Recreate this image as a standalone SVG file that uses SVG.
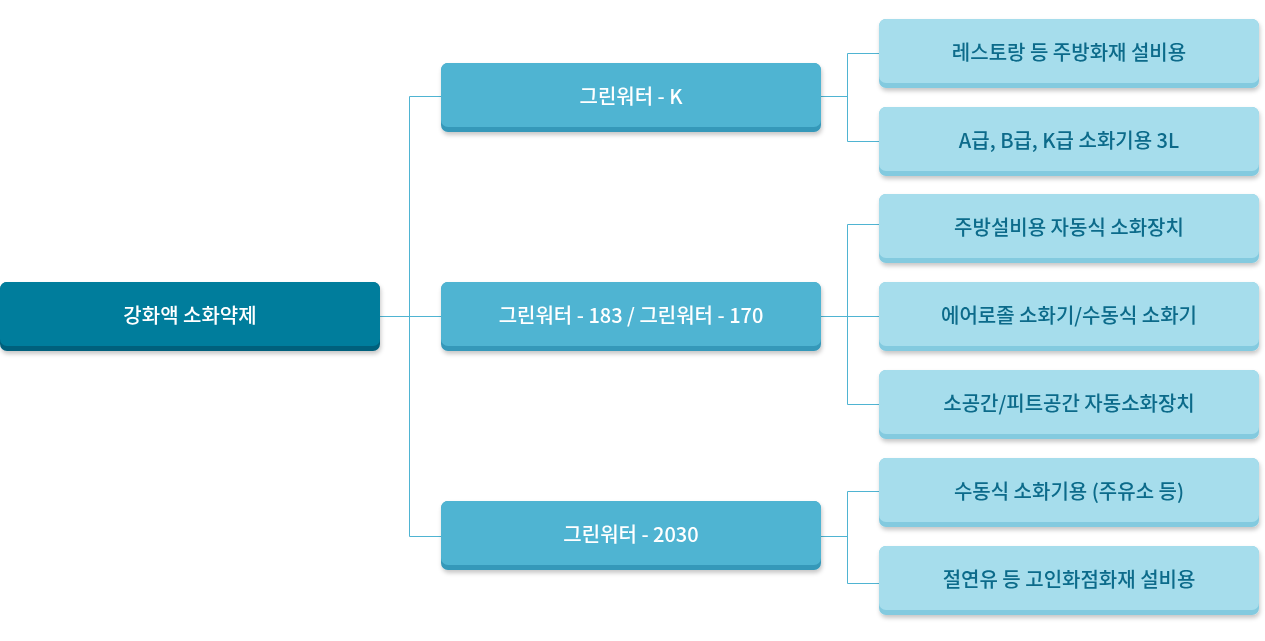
<svg xmlns="http://www.w3.org/2000/svg" width="1265" height="641" viewBox="0 0 1265 641">
<style>
.t{font-family:"Noto Sans CJK KR","Noto Sans",sans-serif;font-size:20px;font-weight:500;text-anchor:middle;dominant-baseline:central}
.w{fill:#ffffff}
.d{fill:#0a6b8a}
.rootA{fill:#03607c}.rootB{fill:#017d9c}
.midA{fill:#3598b9}.midB{fill:#4fb4d2}
.leafA{fill:#83cadf}.leafB{fill:#a6ddec}
.c{fill:none;stroke:#4fb4d2;stroke-width:1}
</style>
<defs>
<filter id="sh" x="-5%" y="-20%" width="115%" height="150%">
<feDropShadow dx="1" dy="3" stdDeviation="2" flood-color="#000" flood-opacity="0.22"/>
</filter>
</defs>
<g id="connectors">
<path class="c" d="M380 316.5H409.5M409.5 96.5V536.5M409.5 96.5H441M409.5 316.5H441M409.5 536.5H441"/>
<path class="c" d="M821 96.5H847.5M847.5 53.5V141.5M847.5 53.5H879M847.5 141.5H879"/>
<path class="c" d="M821 316.5H879M847.5 224.5V404.5M847.5 224.5H879M847.5 404.5H879"/>
<path class="c" d="M821 536.5H847.5M847.5 491.5V583.5M847.5 491.5H879M847.5 583.5H879"/>
</g>
<g id="root" filter="url(#sh)">
<rect class="rootA" x="0" y="282" width="380" height="69" rx="7"/>
<rect class="rootB" x="0" y="282" width="380" height="64" rx="7"/>
<text class="t w" x="190" y="314.5">강화액 소화약제</text>
</g>
<g id="mid1" filter="url(#sh)">
<rect class="midA" x="441" y="63" width="380" height="69" rx="7"/>
<rect class="midB" x="441" y="63" width="380" height="64" rx="7"/>
<text class="t w" x="631" y="95.5">그린워터 - K</text>
</g>
<g id="mid2" filter="url(#sh)">
<rect class="midA" x="441" y="282" width="380" height="69" rx="7"/>
<rect class="midB" x="441" y="282" width="380" height="64" rx="7"/>
<text class="t w" x="631" y="314.5">그린워터 - 183 / 그린워터 - 170</text>
</g>
<g id="mid3" filter="url(#sh)">
<rect class="midA" x="441" y="501" width="380" height="69" rx="7"/>
<rect class="midB" x="441" y="501" width="380" height="64" rx="7"/>
<text class="t w" x="631" y="533.5">그린워터 - 2030</text>
</g>
<g id="leaf1" filter="url(#sh)">
<rect class="leafA" x="879" y="19" width="380" height="69" rx="7"/>
<rect class="leafB" x="879" y="19" width="380" height="64" rx="7"/>
<text class="t d" x="1069" y="51.5">레스토랑 등 주방화재 설비용</text>
</g>
<g id="leaf2" filter="url(#sh)">
<rect class="leafA" x="879" y="107" width="380" height="69" rx="7"/>
<rect class="leafB" x="879" y="107" width="380" height="64" rx="7"/>
<text class="t d" x="1069" y="139.5">A급, B급, K급 소화기용 3L</text>
</g>
<g id="leaf3" filter="url(#sh)">
<rect class="leafA" x="879" y="194" width="380" height="69" rx="7"/>
<rect class="leafB" x="879" y="194" width="380" height="64" rx="7"/>
<text class="t d" x="1069" y="226.5">주방설비용 자동식 소화장치</text>
</g>
<g id="leaf4" filter="url(#sh)">
<rect class="leafA" x="879" y="282" width="380" height="69" rx="7"/>
<rect class="leafB" x="879" y="282" width="380" height="64" rx="7"/>
<text class="t d" x="1069" y="314.5">에어로졸 소화기/수동식 소화기</text>
</g>
<g id="leaf5" filter="url(#sh)">
<rect class="leafA" x="879" y="370" width="380" height="69" rx="7"/>
<rect class="leafB" x="879" y="370" width="380" height="64" rx="7"/>
<text class="t d" x="1069" y="402.5">소공간/피트공간 자동소화장치</text>
</g>
<g id="leaf6" filter="url(#sh)">
<rect class="leafA" x="879" y="458" width="380" height="69" rx="7"/>
<rect class="leafB" x="879" y="458" width="380" height="64" rx="7"/>
<text class="t d" x="1069" y="490.5">수동식 소화기용 (주유소 등)</text>
</g>
<g id="leaf7" filter="url(#sh)">
<rect class="leafA" x="879" y="546" width="380" height="69" rx="7"/>
<rect class="leafB" x="879" y="546" width="380" height="64" rx="7"/>
<text class="t d" x="1069" y="578.5">절연유 등 고인화점화재 설비용</text>
</g>
</svg>
